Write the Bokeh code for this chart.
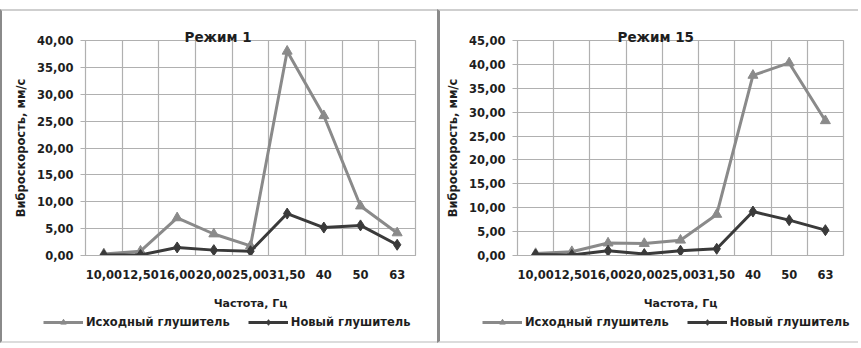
from bokeh.plotting import figure
from bokeh.layouts import row, column
from bokeh.models import Range1d, FixedTicker, Legend, LegendItem
from bokeh.embed import file_html
from bokeh.resources import INLINE

freq_labels = ["10,00", "12,50", "16,00", "20,00", "25,00", "31,50", "40", "50", "63"]
series_names = ["Исходный глушитель", "Новый глушитель"]
mode1_orig = [0.3, 0.8, 7.0, 4.0, 1.8, 38.0, 26.0, 9.2, 4.2]
mode1_new = [0.1, 0.1, 1.5, 1.0, 0.8, 7.8, 5.2, 5.6, 2.0]
mode15_orig = [0.4, 0.8, 2.6, 2.5, 3.2, 8.6, 37.7, 40.3, 28.2]
mode15_new = [0.2, 0.1, 1.0, 0.3, 1.0, 1.4, 9.2, 7.4, 5.3]
mode1_yticks = [0, 5, 10, 15, 20, 25, 30, 35, 40]
mode15_yticks = [0, 5, 10, 15, 20, 25, 30, 35, 40, 45]

FONT = "DejaVu Sans"
TEXT_COLOR = "#1e1e1e"
ORIG_COLOR = "#8a8a8a"
NEW_COLOR = "#3a3a3a"
GRID_COLOR = "#b0b0b0"
ORIG_STYLE = dict(line_color=ORIG_COLOR, line_width=3)
NEW_STYLE = dict(line_color=NEW_COLOR, line_width=3)
ORIG_MARK = dict(marker="triangle", size=10, fill_color=ORIG_COLOR, line_color=ORIG_COLOR)
NEW_MARK = dict(marker="diamond", size=11, fill_color=NEW_COLOR, line_color=NEW_COLOR)

MAIN_H = 301
LEG_H = 33
NAN = [float("nan")]  # legend-only placeholder renderers (draw nothing)


def make_panel(title, orig, new, yticks, width, left, right, title_offset, legend_x,
               border_left):
    n = len(freq_labels)
    xs = list(range(n))
    p = figure(width=width, height=MAIN_H, output_backend="svg", toolbar_location=None,
               x_range=Range1d(-0.5, n - 0.5), y_range=Range1d(yticks[0], yticks[-1]),
               min_border_left=left, min_border_right=right, min_border_top=29,
               min_border_bottom=53, background_fill_color="white",
               border_fill_color="white")
    p.frame_align = False
    p.styles = {"border-left": border_left, "border-top": "2px solid #cfcfcf",
                "box-sizing": "border-box"}
    p.title.text = title
    p.title.text_font = FONT
    p.title.text_font_size = "13.5px"
    p.title.text_font_style = "bold"
    p.title.text_color = TEXT_COLOR
    p.title.align = "left"
    p.title.offset = title_offset
    p.title.standoff = -8
    p.outline_line_color = GRID_COLOR
    p.outline_line_width = 1.2

    # grids at category boundaries
    p.xgrid.ticker = FixedTicker(ticks=[i - 0.5 for i in range(n + 1)])
    p.xgrid.grid_line_color = GRID_COLOR
    p.xgrid.grid_line_width = 1.2
    p.ygrid.ticker = FixedTicker(ticks=yticks)
    p.ygrid.grid_line_color = GRID_COLOR
    p.ygrid.grid_line_width = 1.2

    p.xaxis.ticker = FixedTicker(ticks=xs)
    p.xaxis.major_label_overrides = {i: lab for i, lab in enumerate(freq_labels)}
    p.xaxis.axis_line_color = GRID_COLOR
    p.xaxis.major_tick_line_color = None
    p.xaxis.minor_tick_line_color = None
    p.xaxis.major_label_standoff = 8
    p.xaxis.major_label_text_font = FONT
    p.xaxis.major_label_text_font_size = "11.5px"
    p.xaxis.major_label_text_font_style = "bold"
    p.xaxis.major_label_text_color = TEXT_COLOR
    p.xaxis.axis_label = "Частота, Гц"
    p.xaxis.axis_label_text_font = FONT
    p.xaxis.axis_label_text_font_size = "11px"
    p.xaxis.axis_label_text_font_style = "bold"
    p.xaxis.axis_label_text_color = TEXT_COLOR
    p.xaxis.axis_label_standoff = 15

    p.yaxis.ticker = FixedTicker(ticks=yticks)
    p.yaxis.major_label_overrides = {t: f"{t:.2f}".replace(".", ",") for t in yticks}
    p.yaxis.axis_line_color = GRID_COLOR
    p.yaxis.major_tick_line_color = GRID_COLOR
    p.yaxis.major_tick_out = 5
    p.yaxis.major_tick_in = 0
    p.yaxis.minor_tick_line_color = None
    p.yaxis.major_label_standoff = 7
    p.yaxis.major_label_text_font = FONT
    p.yaxis.major_label_text_font_size = "11.5px"
    p.yaxis.major_label_text_font_style = "bold"
    p.yaxis.major_label_text_color = TEXT_COLOR
    p.yaxis.axis_label = "Виброскорость, мм/с"
    p.yaxis.axis_label_text_font = FONT
    p.yaxis.axis_label_text_font_size = "11.5px"
    p.yaxis.axis_label_text_font_style = "bold"
    p.yaxis.axis_label_text_color = TEXT_COLOR
    p.yaxis.axis_label_standoff = 6

    p.line(xs, orig, **ORIG_STYLE)
    p.scatter(xs, orig, **ORIG_MARK)
    p.line(xs, new, **NEW_STYLE)
    p.scatter(xs, new, **NEW_MARK)

    # legend strip below the chart (legend samples only, no data drawn)
    leg = figure(width=width, height=LEG_H, output_backend="svg", toolbar_location=None,
                 x_range=Range1d(0, width), y_range=Range1d(0, LEG_H),
                 x_axis_location=None, y_axis_location=None,
                 min_border=0, min_border_left=0, min_border_right=0,
                 min_border_top=0, min_border_bottom=0,
                 background_fill_color="white", border_fill_color="white")
    leg.frame_align = False
    leg.styles = {"border-left": border_left, "border-bottom": "2px solid #dcdcdc",
                  "box-sizing": "border-box"}
    leg.grid.visible = False
    leg.outline_line_color = None
    l1 = leg.line(NAN, NAN, **ORIG_STYLE)
    m1 = leg.scatter(NAN, NAN, **ORIG_MARK)
    l2 = leg.line(NAN, NAN, **NEW_STYLE)
    m2 = leg.scatter(NAN, NAN, **NEW_MARK)
    legend = Legend(items=[LegendItem(label=series_names[0], renderers=[l1, m1]),
                           LegendItem(label=series_names[1], renderers=[l2, m2])],
                    orientation="horizontal", location=(legend_x, 14),
                    label_text_font=FONT, label_text_font_size="11.5px",
                    label_text_font_style="bold", label_text_color=TEXT_COLOR,
                    glyph_width=40, glyph_height=14, spacing=18, padding=0,
                    margin=0, label_standoff=3,
                    border_line_color=None, background_fill_alpha=0)
    leg.add_layout(legend, "center")
    col = column(p, leg, spacing=0)
    col.margin = (9, 0, 0, 0)
    return col


c1 = make_panel("Режим 1", mode1_orig, mode1_new, mode1_yticks, 437, 83, 24, 99, 41,
                "2px solid #8a8a8a")
c2 = make_panel("Режим 15", mode15_orig, mode15_new, mode15_yticks, 421, 77, 18, 100, 42,
                "3px solid #8a8a8a")

layout = row(c1, c2, spacing=0)
open("out.html", "w").write(file_html(layout, INLINE))
